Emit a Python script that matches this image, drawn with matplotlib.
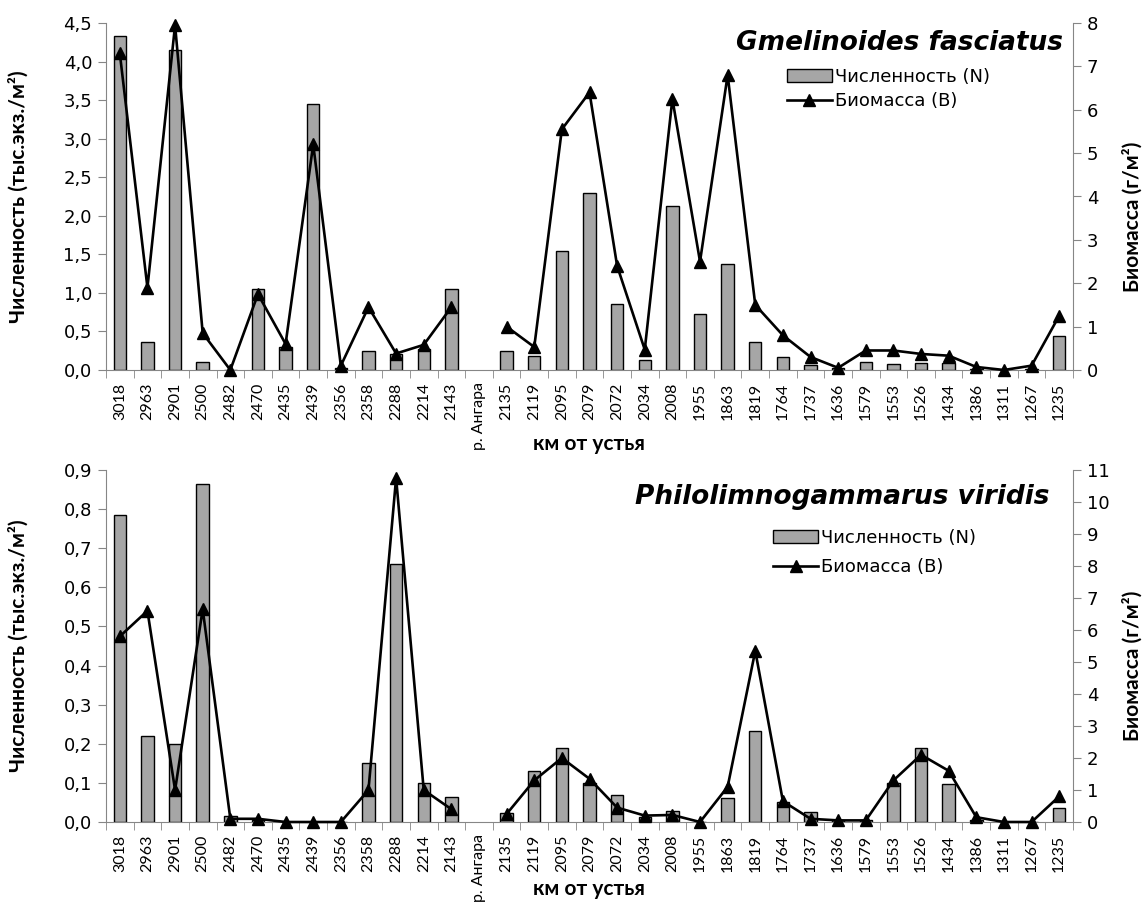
import numpy as np
import matplotlib.pyplot as plt
from matplotlib.ticker import FuncFormatter, MultipleLocator

# Categories (km from the mouth)
km = ['3018', '2963', '2901', '2500', '2482', '2470', '2435', '2439', '2356',
      '2358', '2288', '2214', '2143', 'р. Ангара', '2135', '2119', '2095',
      '2079', '2072', '2034', '2008', '1955', '1863', '1819', '1764', '1737',
      '1636', '1579', '1553', '1526', '1434', '1386', '1311', '1267', '1235']

# Gmelinoides fasciatus
gf_n = [4.33, 0.36, 4.15, 0.10, 0.0, 1.05, 0.30, 3.45, 0.02, 0.25, 0.21, 0.27,
        1.05, np.nan, 0.25, 0.18, 1.54, 2.30, 0.86, 0.13, 2.13, 0.73, 1.37,
        0.36, 0.17, 0.07, 0.02, 0.10, 0.08, 0.09, 0.09, 0.01, 0.0, 0.01, 0.44]
gf_b = [7.3, 1.9, 7.95, 0.85, 0.0, 1.75, 0.6, 5.2, 0.1, 1.45, 0.38, 0.58,
        1.45, np.nan, 1.0, 0.53, 5.55, 6.4, 2.4, 0.47, 6.25, 2.5, 6.8,
        1.5, 0.8, 0.3, 0.05, 0.45, 0.45, 0.37, 0.33, 0.07, 0.0, 0.1, 1.25]

# Philolimnogammarus viridis
pv_n = [0.785, 0.22, 0.20, 0.865, 0.015, 0.005, 0.0, 0.0, 0.0, 0.152, 0.66,
        0.10, 0.065, np.nan, 0.022, 0.13, 0.188, 0.10, 0.068, 0.012, 0.028,
        0.0, 0.062, 0.233, 0.05, 0.025, 0.005, 0.005, 0.10, 0.19, 0.098,
        0.005, 0.0, 0.0, 0.036]
pv_b = [5.8, 6.6, 1.0, 6.65, 0.1, 0.1, 0.0, 0.0, 0.0, 1.0, 10.75, 1.0, 0.4,
        np.nan, 0.25, 1.3, 2.0, 1.35, 0.45, 0.2, 0.22, 0.0, 1.1, 5.35, 0.65,
        0.1, 0.05, 0.05, 1.3, 2.1, 1.6, 0.15, 0.0, 0.0, 0.8]

W, H = 1148, 902
fig = plt.figure(figsize=(W / 100, H / 100), dpi=100)
x = np.arange(len(km))
grey = '#868686'
lab_font = dict(fontsize=15, fontweight='bold', family='Lato')


def panel(top, bottom, n, b, title, ymax, ystep, bmax, title_xy, leg_xy, leg_sp, xlab_y):
    # pixel box of the axes -> figure fraction
    left, right = 106, 1073
    ax = fig.add_axes([left / W, 1 - bottom / H, (right - left) / W, (bottom - top) / H])
    ax.bar(x, n, width=0.45, color='#a6a6a6', edgecolor='black', lw=1,
           label='Численность (N)', zorder=2)
    ax.set_xlim(-0.5, len(km) - 0.5)
    ax.set_ylim(0, ymax)
    ax.yaxis.set_major_locator(MultipleLocator(ystep))
    ax.yaxis.set_major_formatter(FuncFormatter(lambda v, p: f'{v:.1f}'.replace('.', ',')))
    ax.set_xticks(x)
    ax.set_xticklabels(km, rotation=90, fontsize=11.5, family='Lato')
    ax.set_xticks(np.arange(len(km) + 1) - 0.5, minor=True)
    ax.tick_params(axis='x', which='major', length=0, pad=9)
    ax.tick_params(axis='x', which='minor', length=6, color=grey, direction='out')
    ax.tick_params(axis='y', length=6, color=grey, labelsize=13, pad=4)
    for s in ['top', 'right']:
        ax.spines[s].set_visible(False)
    for s in ['left', 'bottom']:
        ax.spines[s].set_color(grey)

    ax2 = ax.twinx()
    ax2.plot(x, b, color='black', lw=1.9, marker='^', ms=9,
             label='Биомасса (В)', zorder=3, clip_on=False)
    ax2.set_ylim(0, bmax)
    ax2.yaxis.set_major_locator(MultipleLocator(1))
    ax2.tick_params(axis='y', length=6, color=grey, labelsize=13, pad=4)
    for s in ['top', 'left', 'bottom']:
        ax2.spines[s].set_visible(False)
    ax2.spines['right'].set_color(grey)

    mid = (top + bottom) / 2
    fig.text(18 / W, 1 - mid / H, 'Численность (тыс.экз./м²)', rotation=90,
             ha='center', va='center', **lab_font)
    fig.text(1132 / W, 1 - (mid + 20) / H, 'Биомасса (г/м²)', rotation=90,
             ha='center', va='center', **lab_font)
    fig.text(589 / W, 1 - xlab_y / H, 'км от устья', ha='center',
             va='center', **lab_font)

    ax2.text(title_xy[0], title_xy[1], title, transform=ax.transAxes, ha='right',
             va='center', fontsize=19, fontweight='bold', style='italic')
    h1, l1 = ax.get_legend_handles_labels()
    h2, l2 = ax2.get_legend_handles_labels()
    ax2.legend(h1 + h2, l1 + l2, loc='upper left', bbox_to_anchor=leg_xy,
               frameon=False, fontsize=13, handlelength=2.5, labelspacing=leg_sp,
               handletextpad=0.15, borderaxespad=0, borderpad=0)


panel(23, 370, gf_n, gf_b, 'Gmelinoides fasciatus', 4.5, 0.5, 8,
      (0.99, 0.942), (0.704, 0.870), 0.35, 444)
panel(470, 822, pv_n, pv_b, 'Philolimnogammarus viridis', 0.9, 0.1, 11,
      (0.976, 0.923), (0.690, 0.832), 0.6, 889)

fig.savefig('out.png', dpi=100)
